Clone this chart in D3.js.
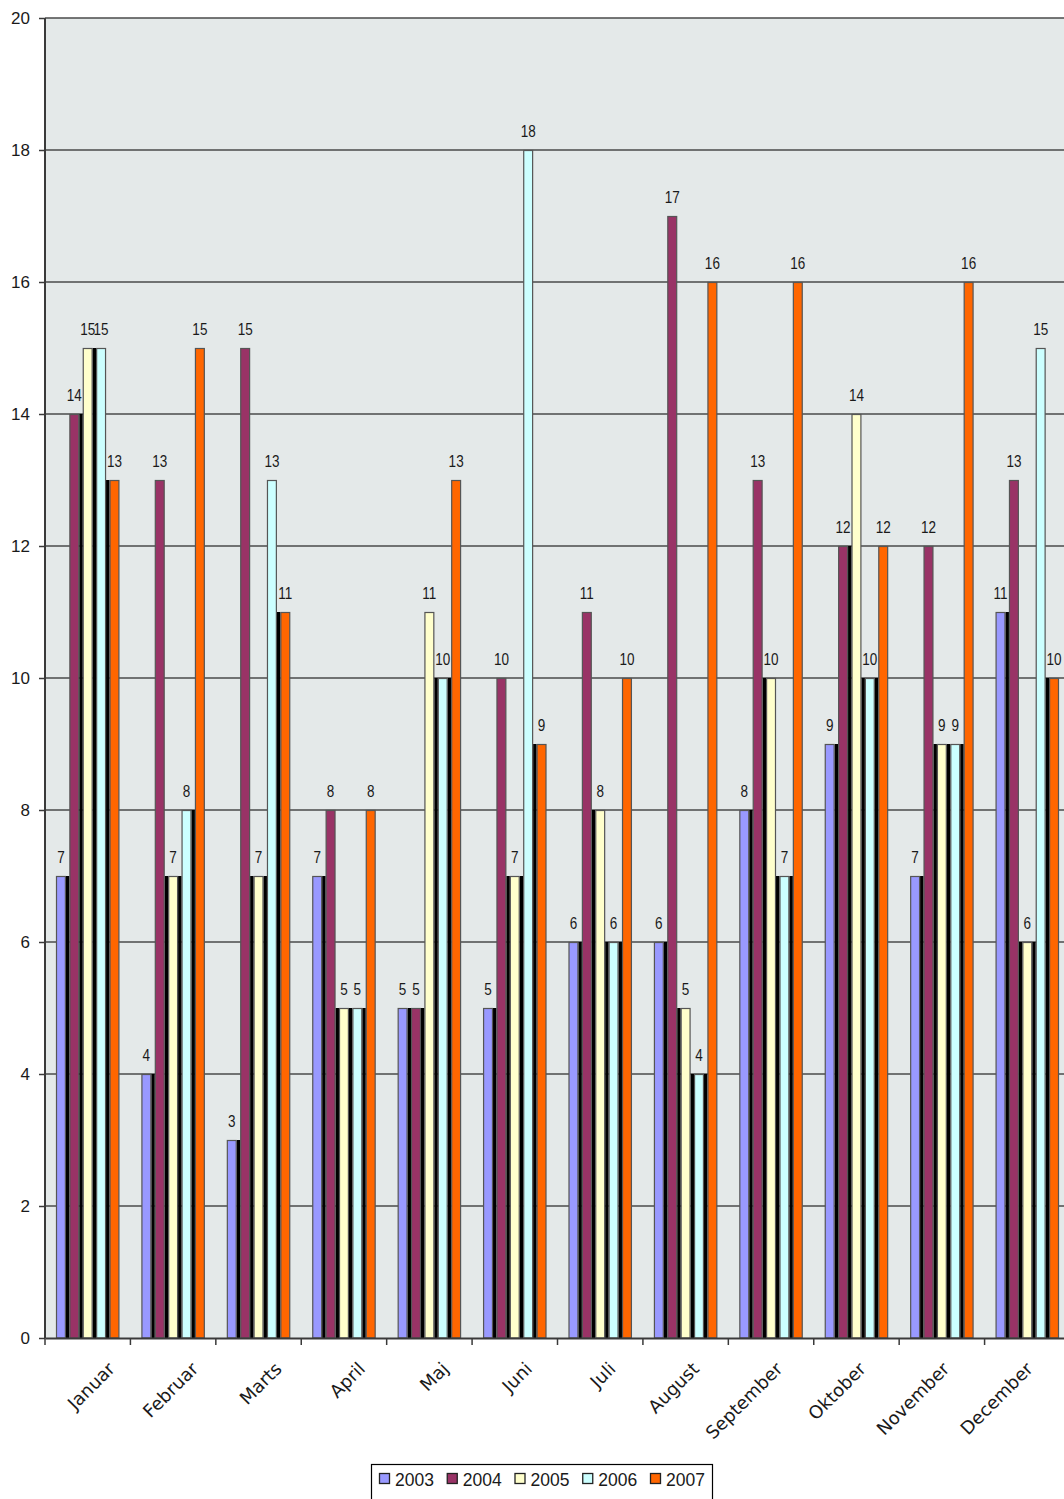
<!DOCTYPE html>
<html>
<head>
<meta charset="utf-8">
<script src="https://cdn.jsdelivr.net/npm/d3@7"></script>
<style>
  html, body { margin: 0; padding: 0; background: #ffffff; }
  svg { display: block; }
  text { font-family: "Liberation Sans", Arial, sans-serif; fill: #1a1a1a; }
  text.month { font-family: "DejaVu Sans", Verdana, sans-serif; }
</style>
</head>
<body>
<svg id="chart" width="1064" height="1499"></svg>
<script>
// Monthly counts per year
const months = ["Januar", "Februar", "Marts", "April", "Maj", "Juni", "Juli", "August", "September", "Oktober", "November", "December"];
const years = ["2003", "2004", "2005", "2006", "2007"];
const v2003 = [7, 4, 3, 7, 5, 5, 6, 6, 8, 9, 7, 11];
const v2004 = [14, 13, 15, 8, 5, 10, 11, 17, 13, 12, 12, 13];
const v2005 = [15, 7, 7, 5, 11, 7, 8, 5, 10, 14, 9, 6];
const v2006 = [15, 8, 13, 5, 10, 18, 6, 4, 7, 10, 9, 15];
const v2007 = [13, 15, 11, 8, 13, 9, 10, 16, 16, 12, 16, 10];
const yTicks = [0, 2, 4, 6, 8, 10, 12, 14, 16, 18, 20];
const yearColors = ["#9999FF", "#993366", "#FFFFCC", "#CCFFFF", "#FF6600"];

const seriesValues = [v2003, v2004, v2005, v2006, v2007];
const rows = months.map((m, i) => ({
  month: m,
  values: years.map((yr, k) => ({ year: yr, k, value: seriesValues[k][i] }))
}));

const svg = d3.select("#chart");

const plot = { left: 45, right: 1070, top: 18, bottom: 1338 };

const x = d3.scaleBand().domain(months).range([plot.left, plot.right]).paddingInner(0).paddingOuter(0);
const groupPad = 11;
const x1 = d3.scaleBand().domain(years)
  .range([groupPad, x.bandwidth() - groupPad])
  .paddingInner(0.26).paddingOuter(0);
const y = d3.scaleLinear().domain([0, 20]).range([plot.bottom, plot.top]);

// plot background
svg.append("rect")
  .attr("x", plot.left).attr("y", plot.top)
  .attr("width", plot.right - plot.left).attr("height", plot.bottom - plot.top)
  .attr("fill", "#E4E9E9");

// horizontal gridlines
svg.append("g").selectAll("line").data(yTicks.filter(t => t > 0)).join("line")
  .attr("x1", plot.left).attr("x2", plot.right)
  .attr("y1", d => y(d)).attr("y2", d => y(d))
  .attr("stroke", "#4a4a4a").attr("stroke-width", 1.4);

// bars
const groups = svg.append("g").selectAll("g").data(rows).join("g")
  .attr("transform", d => `translate(${x(d.month)},0)`);

// dark gaps between neighbouring bars, as tall as the shorter neighbour
groups.selectAll("rect.gap").data(d => d.values.slice(0, -1).map((v, j) => ({
  left: v.year, right: d.values[j + 1].year, value: Math.min(v.value, d.values[j + 1].value)
}))).join("rect")
  .attr("class", "gap")
  .attr("x", d => x1(d.left) + x1.bandwidth())
  .attr("width", d => x1(d.right) - x1(d.left) - x1.bandwidth())
  .attr("y", d => y(d.value))
  .attr("height", d => y(0) - y(d.value))
  .attr("fill", "#000000");

groups.selectAll("rect.bar").data(d => d.values).join("rect")
  .attr("class", "bar")
  .attr("x", d => x1(d.year) + 0.5)
  .attr("width", x1.bandwidth() - 1)
  .attr("y", d => y(d.value) + 0.5)
  .attr("height", d => y(0) - y(d.value) - 0.5)
  .attr("fill", d => yearColors[d.k])
  .attr("stroke", "#555555").attr("stroke-width", 1.2);

// value labels
groups.selectAll("text.val").data(d => d.values).join("text")
  .attr("class", "val")
  .attr("transform", d => `translate(${x1(d.year) + x1.bandwidth() / 2},${y(d.value) - 13.5}) scale(0.82,1)`)
  .attr("text-anchor", "middle")
  .attr("font-size", 16.5)
  .text(d => d.value);

// left axis line
svg.append("line")
  .attr("x1", plot.left).attr("x2", plot.left)
  .attr("y1", plot.top).attr("y2", plot.bottom)
  .attr("stroke", "#3a3a3a").attr("stroke-width", 2);

// y axis
const yAxis = d3.axisLeft(y).tickValues(yTicks).tickSize(6).tickPadding(9).tickFormat(d3.format("d"));
const yG = svg.append("g").attr("transform", `translate(${plot.left},0)`).call(yAxis);
yG.select(".domain").remove();
yG.selectAll(".tick line").attr("stroke", "#3a3a3a").attr("stroke-width", 1.5);
yG.selectAll(".tick text")
  .attr("font-size", 17).attr("fill", "#1a1a1a");

// x axis baseline and category ticks
const xAxis = d3.axisBottom(x).tickSize(0).tickFormat("");
const xG = svg.append("g").attr("transform", `translate(0,${plot.bottom})`).call(xAxis);
xG.select(".domain").attr("stroke", "#3a3a3a").attr("stroke-width", 2);
xG.selectAll(".tick").remove();
svg.append("g").selectAll("line").data(months).join("line")
  .attr("x1", d => x(d)).attr("x2", d => x(d))
  .attr("y1", plot.bottom).attr("y2", plot.bottom + 7)
  .attr("stroke", "#3a3a3a").attr("stroke-width", 1.5);

// rotated month labels
const labelX = d3.scalePoint().domain(months).range([116, 1034]);
svg.append("g").selectAll("text").data(months).join("text")
  .attr("class", "month")
  .attr("transform", d => `translate(${labelX(d)},1370) rotate(-45)`)
  .attr("text-anchor", "end")
  .attr("font-size", 18)
  .text(d => d);

// legend
const legend = svg.append("g");
legend.append("rect")
  .attr("x", 371.5).attr("y", 1464.5).attr("width", 341).attr("height", 60)
  .attr("fill", "#ffffff").attr("stroke", "#000000").attr("stroke-width", 1.2);
const legendX = d3.scalePoint().domain(years).range([379, 650]);
const li = legend.selectAll("g").data(years).join("g")
  .attr("transform", d => `translate(${legendX(d)},1473)`);
li.append("rect")
  .attr("x", 0.5).attr("y", 0.5).attr("width", 10).attr("height", 10)
  .attr("fill", (d, i) => yearColors[i]).attr("stroke", "#222222").attr("stroke-width", 1.3);
li.append("text")
  .attr("x", 16).attr("y", 12.5)
  .attr("font-size", 17.5)
  .text(d => d);
</script>
</body>
</html>
